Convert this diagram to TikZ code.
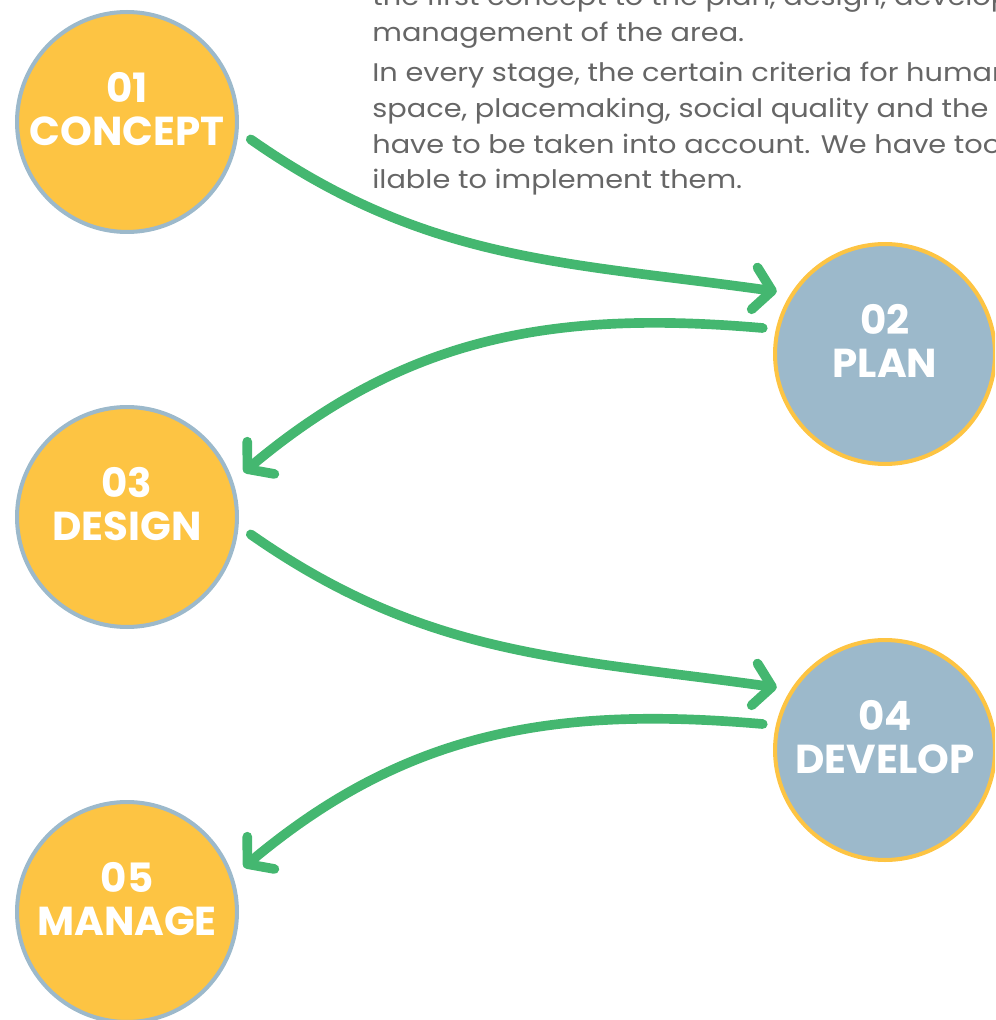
\documentclass[tikz,border=0pt]{standalone}
\usepackage{fontspec}
\setmainfont{Poppins}
\newfontfamily\introfont[FakeStretch=1.13]{Poppins}
\usetikzlibrary{arrows.meta}
\definecolor{stageyellow}{HTML}{FDC443}
\definecolor{stageblue}{HTML}{9CB9CB}
\definecolor{flowgreen}{HTML}{44B770}
\definecolor{bodygray}{HTML}{666666}
\tikzset{
  stage/.style={circle, draw=#1, line width=2.3pt, minimum size=4.4cm,
                inner sep=0pt, outer sep=0.3cm, align=center, text=white,
                text depth=15pt, font=\fontsize{23}{24.4}\selectfont\bfseries},
  ystage/.style={stage=stageblue, fill=stageyellow},
  bstage/.style={stage=stageyellow, fill=stageblue},
  arr/.style={-{Straight Barb[length=10pt, width=24pt, round]}, line width=5.5pt,
              line cap=round, draw=flowgreen},
  body/.style={anchor=base west, align=left, text=bodygray, inner sep=0pt,
               font=\introfont\fontsize{14.5}{20.4}\selectfont},
}

\begin{document}
\begin{tikzpicture}[x=0.02cm, y=-0.02cm]
  \useasboundingbox (0,0) rectangle (995,1020);
  \clip (0,0) rectangle (995,1020);

  % intro text, cut by the top and right edges
  \node[body] (intro) at (372,189)
    {the first concept to the plan, design, development and\\
     management of the area.\\[2.3pt]
     In every stage, the certain criteria for human\\
     space, placemaking, social quality and the\\
     have to be taken into account. We have tools ava-\\
     ilable to implement them.};

  % stages
  \node[ystage] (concept) at (127,122) {01\\CONCEPT};
  \node[bstage] (plan)    at (885,354) {02\\PLAN};
  \node[ystage] (design)  at (127,517) {03\\DESIGN};
  \node[bstage] (develop) at (885,750) {04\\DEVELOP};
  \node[ystage] (manage)  at (127,912) {05\\MANAGE};

  % flow between them
  \draw[arr] (concept.-8) to[out=-35, in=172] (plan.150);
  \draw[arr] (plan.168) to[out=175, in=40] (design.21);
  \draw[arr] (design.-8) to[out=-35, in=172] (develop.150);
  \draw[arr] (develop.168) to[out=175, in=40] (manage.21);
\end{tikzpicture}
\end{document}
